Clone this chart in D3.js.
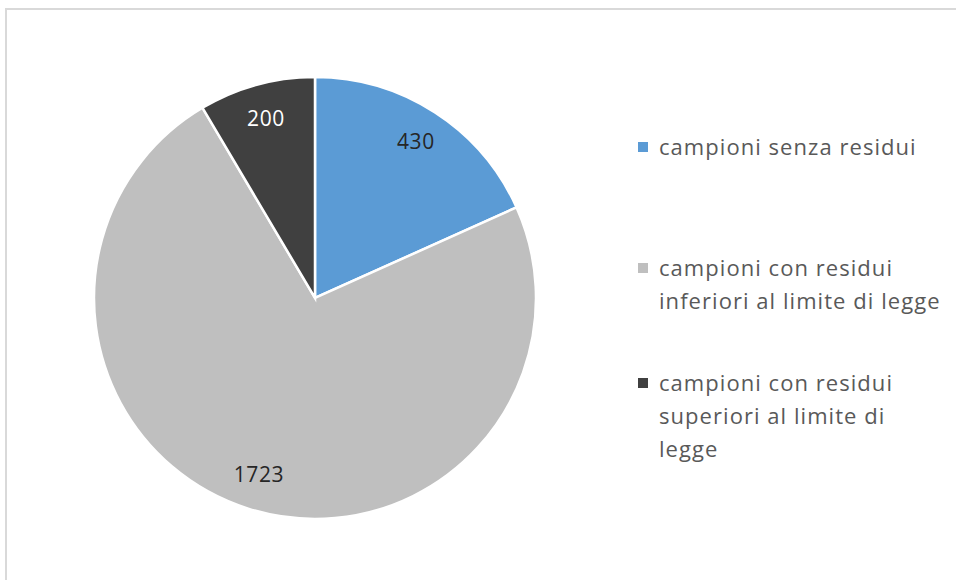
<!DOCTYPE html>
<html><head><meta charset="utf-8">
<script src="https://cdn.jsdelivr.net/npm/d3@7"></script>
<style>body{margin:0;background:#fff;}svg{display:block;font-family:"Open Sans",sans-serif;}</style>
</head><body>
<svg id="c" width="956" height="580"></svg>
<script>
const categories = ["campioni senza residui","campioni con residui inferiori al limite di legge","campioni con residui superiori al limite di legge"];
const legendLines = [["campioni senza residui"],["campioni con residui","inferiori al limite di legge"],["campioni con residui","superiori al limite di","legge"]];
const values = [430, 1723, 200];
const colors = ["#5B9BD5","#BFBFBF","#404040"];
const labelColors = ["#262626","#262626","#ffffff"];

const svg = d3.select("#c");
svg.append("rect").attr("x",6).attr("y",9).attr("width",1000).attr("height",700)
  .attr("fill","none").attr("stroke","#d9d9d9").attr("stroke-width",2);

const cx = 315, cy = 298, r = 221;
const data = values.map((v,i)=>({v,i}));
const pie = d3.pie().value(d=>d.v).sort(null);
const arcs = pie(data);
const arc = d3.arc().innerRadius(0).outerRadius(r);
const labelArc = d3.arc().innerRadius(r*0.84).outerRadius(r*0.84);
const g = svg.append("g").attr("transform",`translate(${cx},${cy})`);
g.selectAll("path").data(arcs).join("path")
  .attr("d",arc).attr("fill",d=>colors[d.data.i]).attr("stroke","#fff").attr("stroke-width",2.5);
g.selectAll("text").data(arcs).join("text")
  .attr("transform",d=>`translate(${labelArc.centroid(d)})`)
  .attr("text-anchor","middle").attr("dy","0.35em")
  .attr("font-size",21).attr("letter-spacing",0.6).attr("fill",d=>labelColors[d.data.i])
  .text(d=>d.data.v);

const legTop = [147, 268, 383];
const lh = 33.3;
const leg = svg.append("g");
legendLines.forEach((lines,i)=>{
  leg.append("rect").attr("x",638).attr("y",legTop[i]-5).attr("width",10).attr("height",10).attr("fill",colors[i]);
  lines.forEach((t,j)=>{
    leg.append("text").attr("x",659).attr("y",legTop[i]+j*lh).attr("dy","0.35em")
      .attr("font-size",22).attr("letter-spacing",1.05).attr("fill","#595959").text(t);
  });
});
</script>
</body></html>
